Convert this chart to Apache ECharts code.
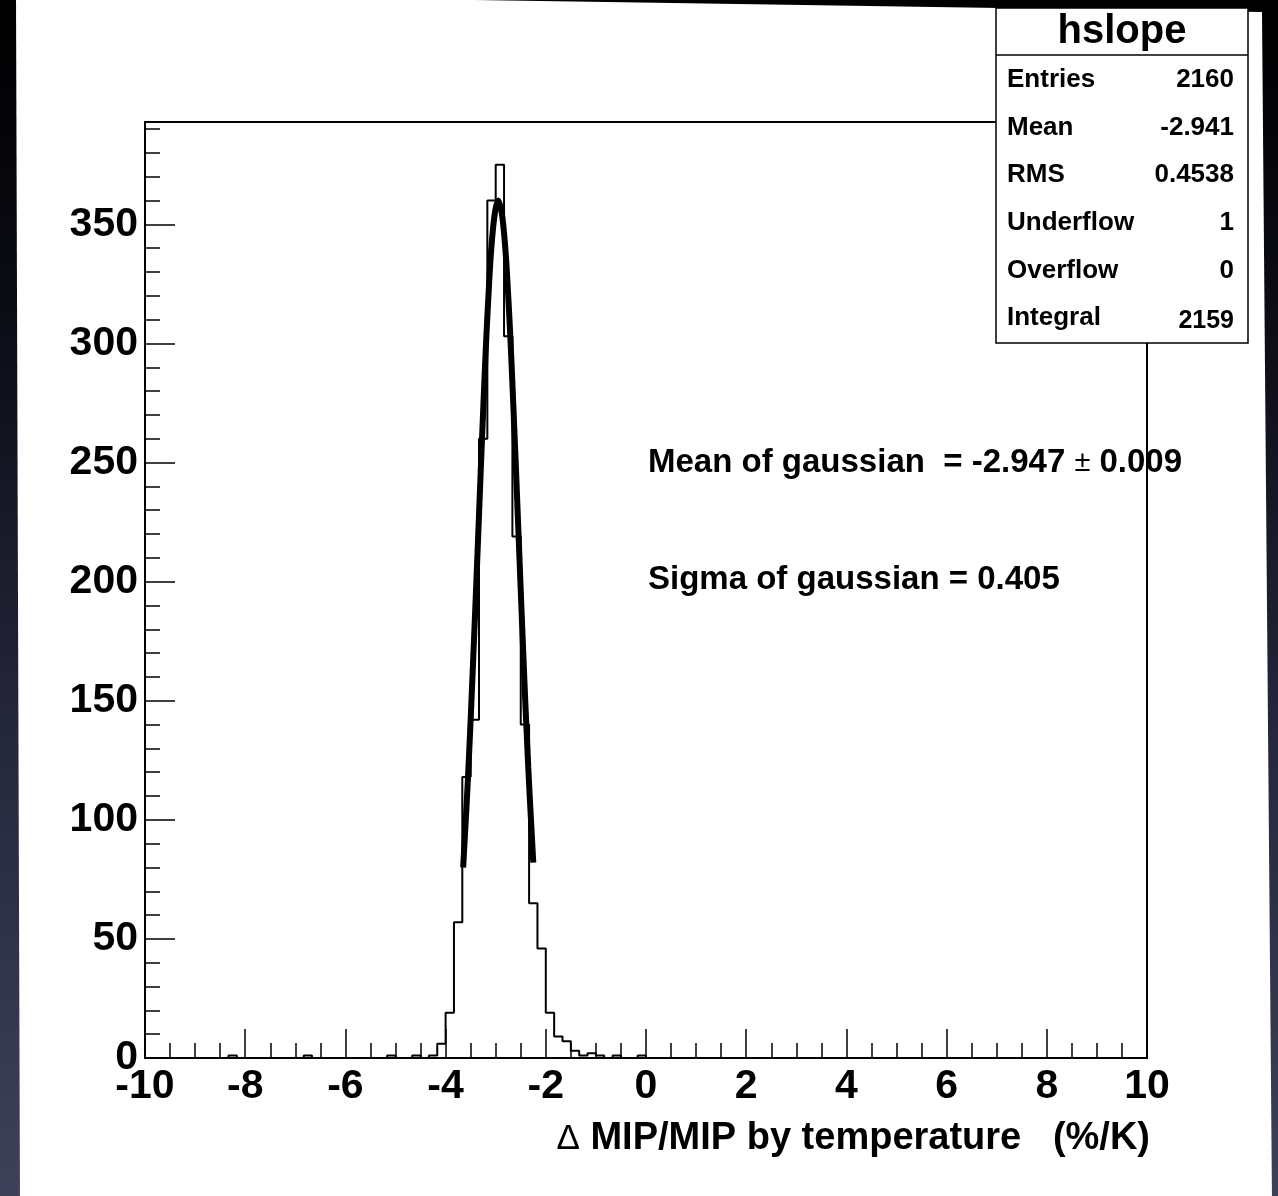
<!DOCTYPE html>
<html><head><meta charset="utf-8">
<script src="https://cdn.jsdelivr.net/npm/echarts@6/dist/echarts.min.js"></script>
<style>
html,body{margin:0;padding:0;width:1278px;height:1196px;overflow:hidden;
background:linear-gradient(#000000 0%, #0b0b14 25%, #24263a 60%, #3e4159 100%);}
#c{width:1278px;height:1196px;}
</style></head><body><div id="c"></div>
<script>
// ---- data ----
const xMin = -10, xMax = 10, binWidth = 1 / 6;   // 120 bins
const counts = [
  0,0,0,0,0,0,0,0,0,0,
  1,0,0,0,0,0,0,0,0,1,
  0,0,0,0,0,0,0,0,0,1,
  0,0,1,0,1,6,19,57,118,142,
  260,360,375,303,219,140,65,46,19,9,
  7,3,1,2,1,0,1,0,0,1,
  0,0,0,0,0,0,0,0,0,0,
  0,0,0,0,0,0,0,0,0,0,
  0,0,0,0,0,0,0,0,0,0,
  0,0,0,0,0,0,0,0,0,0,
  0,0,0,0,0,0,0,0,0,0,
  0,0,0,0,0,0,0,0,0,0
];
const fitX = [-3.65,-3.55,-3.45,-3.35,-3.25,-3.15,-3.05,-2.947,-2.85,-2.75,-2.65,-2.55,-2.45,-2.35,-2.25];
const fitY = [80,119,167,219,272,318,349,360,350,320,275,223,170,122,82];
const yMin = 0, yMax = 393;
const xInterval = 2, yInterval = 50;
const histName = 'hslope';
const statLabels = ['Entries','Mean','RMS','Underflow','Overflow','Integral'];
const statValues = ['2160','-2.941','0.4538','1','0','2159'];
const fitMeanText = 'Mean of gaussian  = -2.947 {pm|±} 0.009';
const fitSigmaText = 'Sigma of gaussian = 0.405';
const xTitle = '{d|Δ} MIP/MIP by temperature   (%/K)';

// ---- build ----
const FONT = '"Liberation Sans", Arial, Helvetica, sans-serif';
const histData = counts.map((c, k) => [xMin + k * binWidth, c]);
histData.push([xMax, 0]);
const fitData = fitX.map((x, i) => [x, fitY[i]]);

const statRowY = [80, 128, 175, 223, 271, 318];
const graphics = [
  { type: 'polygon', z: -100, silent: true,
    shape: { points: [[16,-7],[1262,12],[1272,1200],[20,1200]] },
    style: { fill: '#ffffff' } },
  { type: 'rect', z: 100, shape: { x: 996, y: 8, width: 252, height: 335 },
    style: { fill: '#ffffff', stroke: '#000', lineWidth: 1.5 } },
  { type: 'line', z: 101, shape: { x1: 996, y1: 55, x2: 1248, y2: 55 },
    style: { stroke: '#000', lineWidth: 1.5 } },
  { type: 'text', z: 101, style: { text: histName, x: 1122, y: 32,
    textAlign: 'center', textVerticalAlign: 'middle', align: 'center', verticalAlign: 'middle',
    fontFamily: FONT, fontWeight: 'bold', fontSize: 40, fill: '#000' } }
];
statLabels.forEach((lab, i) => {
  graphics.push({ type: 'text', z: 101, style: { text: lab, x: 1007, y: statRowY[i],
    textAlign: 'left', textVerticalAlign: 'middle', align: 'left', verticalAlign: 'middle',
    fontFamily: FONT, fontWeight: 'bold', fontSize: 26, fill: '#000' } });
  graphics.push({ type: 'text', z: 101, style: { text: statValues[i], x: 1234, y: statRowY[i] + (i === 5 ? 3 : 0),
    textAlign: 'right', textVerticalAlign: 'middle', align: 'right', verticalAlign: 'middle',
    fontFamily: FONT, fontWeight: 'bold', fontSize: i === 5 ? 25 : 26, fill: '#000' } });
});
graphics.push({ type: 'text', z: 50, style: { text: fitMeanText, x: 648, y: 463,
  textAlign: 'left', textVerticalAlign: 'middle', align: 'left', verticalAlign: 'middle',
  fontFamily: FONT, fontWeight: 'bold', fontSize: 33, fill: '#000',
  rich: { pm: { fontFamily: FONT, fontWeight: 'normal', fontSize: 29, fill: '#000' } } } });
graphics.push({ type: 'text', z: 50, style: { text: fitSigmaText, x: 648, y: 580,
  textAlign: 'left', textVerticalAlign: 'middle', align: 'left', verticalAlign: 'middle',
  fontFamily: FONT, fontWeight: 'bold', fontSize: 33, fill: '#000' } });

const chart = echarts.init(document.getElementById('c'), null, { renderer: 'canvas' });
chart.setOption({
  backgroundColor: 'transparent',
  animation: false,
  grid: { left: 145, right: 131, top: 122, bottom: 138, show: true,
    borderColor: '#000', borderWidth: 2, backgroundColor: 'transparent',
    containLabel: false, outerBoundsMode: 'none' },
  xAxis: {
    type: 'value', min: xMin, max: xMax, interval: xInterval,
    axisLine: { show: true, onZero: false, lineStyle: { color: '#000', width: 2 } },
    axisTick: { show: true, inside: true, length: 29, lineStyle: { color: '#000', width: 1.5 } },
    minorTick: { show: true, splitNumber: 4, length: 15, lineStyle: { color: '#000', width: 1.5 } },
    splitLine: { show: false }, minorSplitLine: { show: false },
    axisLabel: { margin: 8, fontSize: 41, fontWeight: 'bold', color: '#000', fontFamily: FONT },
    name: xTitle, nameLocation: 'end', nameGap: 3,
    nameTextStyle: { align: 'right', verticalAlign: 'top', padding: [62, 0, 0, 0],
      fontSize: 38, fontWeight: 'bold', color: '#000', fontFamily: FONT,
      rich: { d: { fontSize: 35, fontWeight: 'normal', color: '#000', fontFamily: FONT } } }
  },
  yAxis: [
    { type: 'value', min: yMin, max: yMax, interval: yInterval, position: 'left',
      axisLine: { show: true, onZero: false, lineStyle: { color: '#000', width: 2 } },
      axisTick: { show: true, inside: true, length: 30, lineStyle: { color: '#000', width: 1.5 } },
      splitLine: { show: false },
      axisLabel: { margin: 7, fontSize: 41, fontWeight: 'bold', color: '#000', fontFamily: FONT,
        formatter: v => (v % yInterval === 0 ? String(v) : '') } },
    { type: 'value', min: yMin, max: yMax, interval: 10, position: 'left', offset: 0,
      axisLine: { show: false, onZero: false },
      axisTick: { show: true, inside: true, length: 15, lineStyle: { color: '#000', width: 1.5 } },
      splitLine: { show: false }, axisLabel: { show: false } }
  ],
  series: [
    { type: 'line', name: 'hist', step: 'end', data: histData, symbol: 'none',
      xAxisIndex: 0, yAxisIndex: 0,
      lineStyle: { color: '#000', width: 2 }, z: 3 },
    { type: 'line', name: 'fit', data: fitData, smooth: 0.4, symbol: 'none',
      xAxisIndex: 0, yAxisIndex: 0,
      lineStyle: { color: '#000', width: 6 }, z: 4 }
  ],
  graphic: graphics
});
</script></body></html>
